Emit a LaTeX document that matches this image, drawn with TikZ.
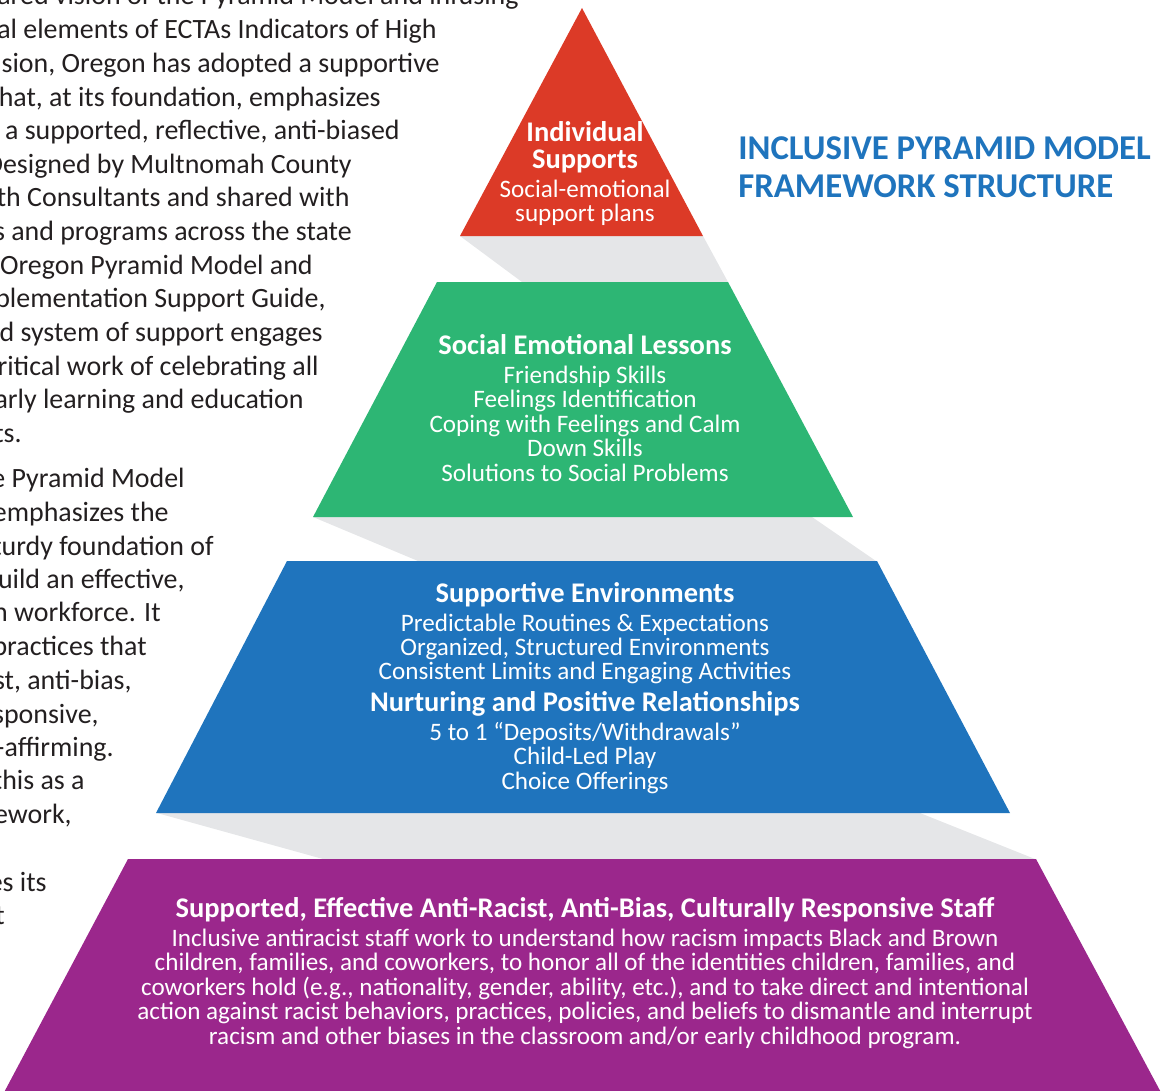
\documentclass[tikz,border=0pt]{standalone}
\usepackage{fontspec}
\setmainfont{Carlito}
\usepackage{xcolor}
\usetikzlibrary{positioning}

\definecolor{tierred}{HTML}{DC3A27}
\definecolor{tiergreen}{HTML}{2DB674}
\definecolor{tierblue}{HTML}{1F74BD}
\definecolor{tierpurple}{HTML}{9B278C}
\definecolor{stepgray}{HTML}{E5E6E8}
\definecolor{bodyink}{HTML}{231F20}

\newcommand{\tierfont}{\fontsize{14.3}{13.9}\selectfont\lineskiplimit=-100pt\relax}
\newcommand{\tierhead}{\fontsize{16.2}{14}\selectfont\bfseries}

\begin{document}
\begin{tikzpicture}[x=0.02cm, y=-0.02cm,
    lead/.style={anchor=base east, inner sep=0pt, text=bodyink,
      font=\fontsize{15.9}{19}\selectfont},
    tier/.style={align=center, inner sep=0pt, text=white, font=\tierfont},
    heading/.style={anchor=west, align=left, inner sep=0pt, text=tierblue,
      font=\fontsize{19.8}{21.5}\selectfont\bfseries}]
  \useasboundingbox (0,0) rectangle (1162,1091);

  % running text on the left (cut by the page edge)
  \foreach \r/\b/\t [count=\i] in {
      519/5/{ared vision of the Pyramid Model and infusing},
      437/39/{al elements of ECTAs Indicators of High},
      440/72.6/{sion, Oregon has adopted a supportive},
      381/106.2/{hat, at its foundation, emphasizes},
      400/139.8/{a supported, reflective, anti-biased},
      352/173.4/{Designed by Multnomah County},
      350/207/{th Consultants and shared with},
      352/240.6/{s and programs across the state},
      313/274.2/{Oregon Pyramid Model and},
      326/307.8/{plementation Support Guide,},
      323/341.4/{d system of support engages},
      319/375/{ritical work of celebrating all},
      304/408.6/{arly learning and education},
      22/442.2/{ts.}}
    \node[lead] (lead\i) at (\r,\b) {\t};
  \foreach \r/\b/\t [count=\i] in {
      185/487/{e Pyramid Model},
      169/521/{emphasizes the},
      214/555/{turdy foundation of},
      185/588/{uild an effective,},
      161/621/{n workforce. It},
      147/655/{practices that},
      132/689/{st, anti-bias,},
      99/723/{sponsive,},
      114/756/{-affirming.},
      85/789/{this as a},
      72/823/{ework,},
      47/891/{es its},
      5/924/{t}}
    \node[lead] (more\i) at (\r,\b) {\t};

  % gray step sides between the tiers
  \fill[stepgray] (460,236) -- (703,236) -- (728,282) -- (522,282) -- cycle;
  \fill[stepgray] (313,517) -- (812,517) -- (876,561) -- (418,561) -- cycle;
  \fill[stepgray] (157,813) -- (920,813) -- (1035,859) -- (323,859) -- cycle;

  % the four tiers
  \fill[tierred] (582,8) -- (703,236) -- (460,236) -- cycle;
  \fill[tiergreen] (437,282) -- (728,282) -- (853,517) -- (313,517) -- cycle;
  \fill[tierblue] (287,561) -- (877,561) -- (1010,813) -- (156,813) -- cycle;
  \fill[tierpurple] (128,859) -- (1036,859) -- (1165,1100) -- (0,1100) -- cycle;

  % tier labels
  \node[tier] (individual) at (585,173.5) {{\tierhead Individual}\\[1.4pt]{\tierhead Supports}\\[2.5pt]
    Social-emotional\\support plans};
  \node[tier] (lessons) at (585,408) {{\tierhead Social Emotional Lessons}\\[2.5pt]
    Friendship Skills\\Feelings Identification\\Coping with Feelings and Calm\\
    Down Skills\\Solutions to Social Problems};
  \node[tier] (environments) at (585,688) {{\tierhead Supportive Environments}\\[2.5pt]
    Predictable Routines \& Expectations\\Organized, Structured Environments\\
    Consistent Limits and Engaging Activities\\[4.2pt]
    {\tierhead Nurturing and Positive Relationships}\\[2.5pt]
    5 to 1 “Deposits/Withdrawals”\\Child-Led Play\\Choice Offerings};
  \node[tier] (staff) at (585,973) {{\tierhead Supported, Effective Anti-Racist, Anti-Bias, Culturally Responsive Staff}\\[2.5pt]
    Inclusive antiracist staff work to understand how racism impacts Black and Brown\\
    children, families, and coworkers, to honor all of the identities children, families, and\\
    coworkers hold (e.g., nationality, gender, ability, etc.), and to take direct and intentional\\
    action against racist behaviors, practices, policies, and beliefs to dismantle and interrupt\\
    racism and other biases in the classroom and/or early childhood program.};

  % title
  \node[heading] (title) at (738,167) {INCLUSIVE PYRAMID MODEL\\FRAMEWORK STRUCTURE};
\end{tikzpicture}
\end{document}
